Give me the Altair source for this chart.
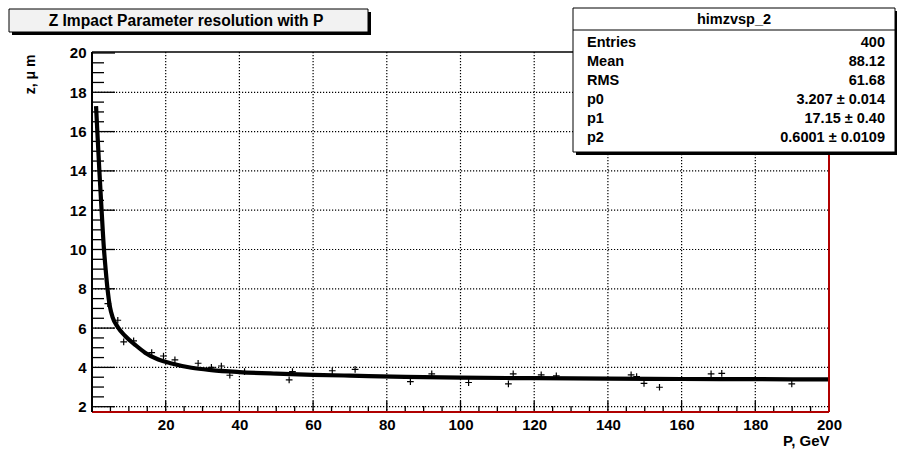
import altair as alt
import pandas as pd

# Fitted resolution curve, sampled along P (GeV) -> z resolution (micrometres)
curve_p = [1.1, 1.45, 2.0, 2.6, 3.25, 3.7, 4.2, 4.9, 5.6, 7.0, 9.0, 11.7, 14.4, 18.0,
           21.6, 27.0, 32.4, 40.0, 50.0, 60.0, 70.0, 85.0, 100.0, 120.0, 140.0,
           160.0, 180.0, 200.0]
curve_z = [17.3, 16.0, 14.0, 12.0, 10.0, 9.0, 8.0, 7.05, 6.55, 6.05, 5.6, 5.15, 4.75, 4.4,
           4.2, 3.98, 3.86, 3.76, 3.68, 3.62, 3.58, 3.52, 3.48, 3.45, 3.43,
           3.41, 3.40, 3.39]

# Histogram points that stand apart from the band
pt_p = [4.3, 7.0, 8.6, 11.3, 16.2, 19.4, 22.5, 28.8, 32.4, 35.1, 37.4, 41.4,
        53.5, 54.4, 65.2, 71.4, 86.4, 92.2, 102.2, 113.0, 114.3, 121.9, 126.0,
        146.3, 147.8, 149.8, 154.0, 168.0, 170.9, 189.9]
pt_z = [7.24, 6.4, 5.3, 5.35, 4.75, 4.58, 4.38, 4.21, 4.0, 4.07, 3.6, 3.78,
        3.36, 3.78, 3.83, 3.9, 3.28, 3.67, 3.23, 3.16, 3.67, 3.62, 3.57,
        3.62, 3.53, 3.19, 2.99, 3.67, 3.70, 3.16]

x_major = [20, 40, 60, 80, 100, 120, 140, 160, 180, 200]
x_minor = [5, 10, 15, 25, 30, 35, 45, 50, 55, 65, 70, 75, 85, 90, 95, 105, 110, 115,
           125, 130, 135, 145, 150, 155, 165, 170, 175, 185, 190, 195]
y_major = [2, 4, 6, 8, 10, 12, 14, 16, 18, 20]
y_minor = [2.5, 3, 3.5, 4.5, 5, 5.5, 6.5, 7, 7.5, 8.5, 9, 9.5, 10.5, 11, 11.5,
           12.5, 13, 13.5, 14.5, 15, 15.5, 16.5, 17, 17.5, 18.5, 19, 19.5]

hist_name = "himzvsp_2"
stat_names = ["Entries", "Mean", "RMS", "p0", "p1", "p2"]
stat_values = ["400", "88.12", "61.68", "3.207 \u00b1 0.014", "17.15 \u00b1 0.40",
               "0.6001 \u00b1 0.0109"]
title_text = "Z Impact Parameter resolution with P"

FONT = "Liberation Sans, Arial, sans-serif"
W, H = 737, 360
FRAME_RED = "#b00000"

xscale = alt.Scale(domain=[0, 200], nice=False, zero=False)
yscale = alt.Scale(domain=[1.73, 20.05], nice=False, zero=False)

xaxis = alt.Axis(values=x_major, grid=False, ticks=False, domain=False,
                 labelFont=FONT, labelFontSize=15, labelFontWeight="bold",
                 labelColor="black", labelPadding=5, labelFlush=False,
                 title="P, GeV", titleFont=FONT, titleFontSize=15,
                 titleFontWeight="bold", titleColor="black", titleAnchor="end",
                 titleAlign="right", titleX=W, titleY=33,
                 titleBaseline="alphabetic")
yaxis = alt.Axis(values=y_major, grid=False, ticks=False, domain=False,
                 labelFont=FONT, labelFontSize=15, labelFontWeight="bold",
                 labelColor="black", labelPadding=6, labelFlush=False,
                 title="z, \u03bc m", titleFont=FONT, titleFontSize=14,
                 titleFontWeight="bold", titleColor="black", titleAngle=270,
                 titleAlign="center", titleBaseline="middle",
                 titleX=-62, titleY=22)


def X(field):
    return alt.X(f"{field}:Q", scale=xscale, axis=xaxis)


def Y(field):
    return alt.Y(f"{field}:Q", scale=yscale, axis=yaxis)


curve_df = pd.DataFrame({"p": curve_p, "z": curve_z})
pts_df = pd.DataFrame({"p": pt_p, "z": pt_z})

# Dotted grid at the major divisions
vgrid = alt.Chart(pd.DataFrame({"v": x_major[:-1]})).mark_rule(
    color="#000000", strokeWidth=1.2, strokeDash=[1.2, 1.8], opacity=1
).encode(x=X("v"), y=alt.value(0), y2=alt.value(H))
hgrid = alt.Chart(pd.DataFrame({"v": y_major[:-1]})).mark_rule(
    color="#000000", strokeWidth=1.2, strokeDash=[1.2, 1.8], opacity=1
).encode(y=Y("v"), x=alt.value(0), x2=alt.value(W))

curve = alt.Chart(curve_df).mark_line(
    color="black", strokeWidth=4.2, interpolate="monotone", clip=True
).encode(x=X("p"), y=Y("z"))

plus = "M-1,0L1,0M0,-1L0,1"
points = alt.Chart(pts_df).mark_point(
    shape=plus, size=45, color="black", strokeWidth=1.2, filled=False, opacity=1
).encode(x=X("p"), y=Y("z"))

# Inward-pointing ticks on the frame
ymaj = alt.Chart(pd.DataFrame({"v": y_major})).mark_rule(
    color="black", strokeWidth=1.3
).encode(y=Y("v"), x=alt.value(0), x2=alt.value(23))
ymin = alt.Chart(pd.DataFrame({"v": y_minor})).mark_rule(
    color="black", strokeWidth=1.3
).encode(y=Y("v"), x=alt.value(0), x2=alt.value(12))
xmaj = alt.Chart(pd.DataFrame({"v": x_major})).mark_rule(
    color="black", strokeWidth=1.3
).encode(x=X("v"), y=alt.value(H), y2=alt.value(H - 11))
xmin = alt.Chart(pd.DataFrame({"v": x_minor})).mark_rule(
    color="black", strokeWidth=1.3
).encode(x=X("v"), y=alt.value(H), y2=alt.value(H - 6))

one = pd.DataFrame({"k": [0]})


def rule(x, x2, y, y2, color, width):
    return alt.Chart(one).mark_rule(color=color, strokeWidth=width).encode(
        x=alt.value(x), x2=alt.value(x2), y=alt.value(y), y2=alt.value(y2))


frame = [
    rule(0, W, H, H, FRAME_RED, 2),
    rule(W, W, 0, H, FRAME_RED, 2),
    rule(0, W, 0, 0, "black", 1.5),
    rule(0, 0, 0, H, "black", 2),
]


def box(x, x2, y, y2, fill, stroke, sw):
    return alt.Chart(one).mark_rect(fill=fill, stroke=stroke, strokeWidth=sw).encode(
        x=alt.value(x), x2=alt.value(x2), y=alt.value(y), y2=alt.value(y2))


def label(text, x, y, align, size):
    return alt.Chart(pd.DataFrame({"t": [text]})).mark_text(
        font=FONT, fontSize=size, fontWeight="bold", color="black",
        align=align, baseline="alphabetic"
    ).encode(x=alt.value(x), y=alt.value(y), text="t:N")


# Title box with drop shadow
title_layers = [
    box(-80, 279, -40, -17, "black", "black", 0),
    box(-83, 276, -43, -20, "#f2f2f2", "black", 1),
    label(title_text, 94, -26, "center", 15.6),
]

# Statistics box
sx0, sx1, sy0, sy1 = 481, 803, -44, 100
stats_layers = [
    box(sx0 + 3, sx1 + 6, sy0 + 3, sy1 + 3, "black", "black", 0),
    box(sx0, sx1, sy0, sy1, "white", "black", 1),
    rule(sx0, sx1, -22, -22, "black", 1),
    label(hist_name, (sx0 + sx1) / 2, -28, "center", 14.5),
]
for i, (n, v) in enumerate(zip(stat_names, stat_values)):
    yb = -5.3 + 19 * i
    stats_layers.append(label(n, 495, yb, "left", 14.5))
    stats_layers.append(label(v, 793, yb, "right", 14.5))

chart = alt.layer(
    vgrid, hgrid, curve, points, ymaj, ymin, xmaj, xmin, *frame,
    *title_layers, *stats_layers
).properties(
    width=W, height=H,
    autosize=alt.AutoSizeParams(type="none"),
    padding={"left": 92, "top": 52, "right": 68, "bottom": 38},
    background="white",
).configure_view(stroke=None)

chart.save("out.html", embed_options={"renderer": "svg", "actions": False})
